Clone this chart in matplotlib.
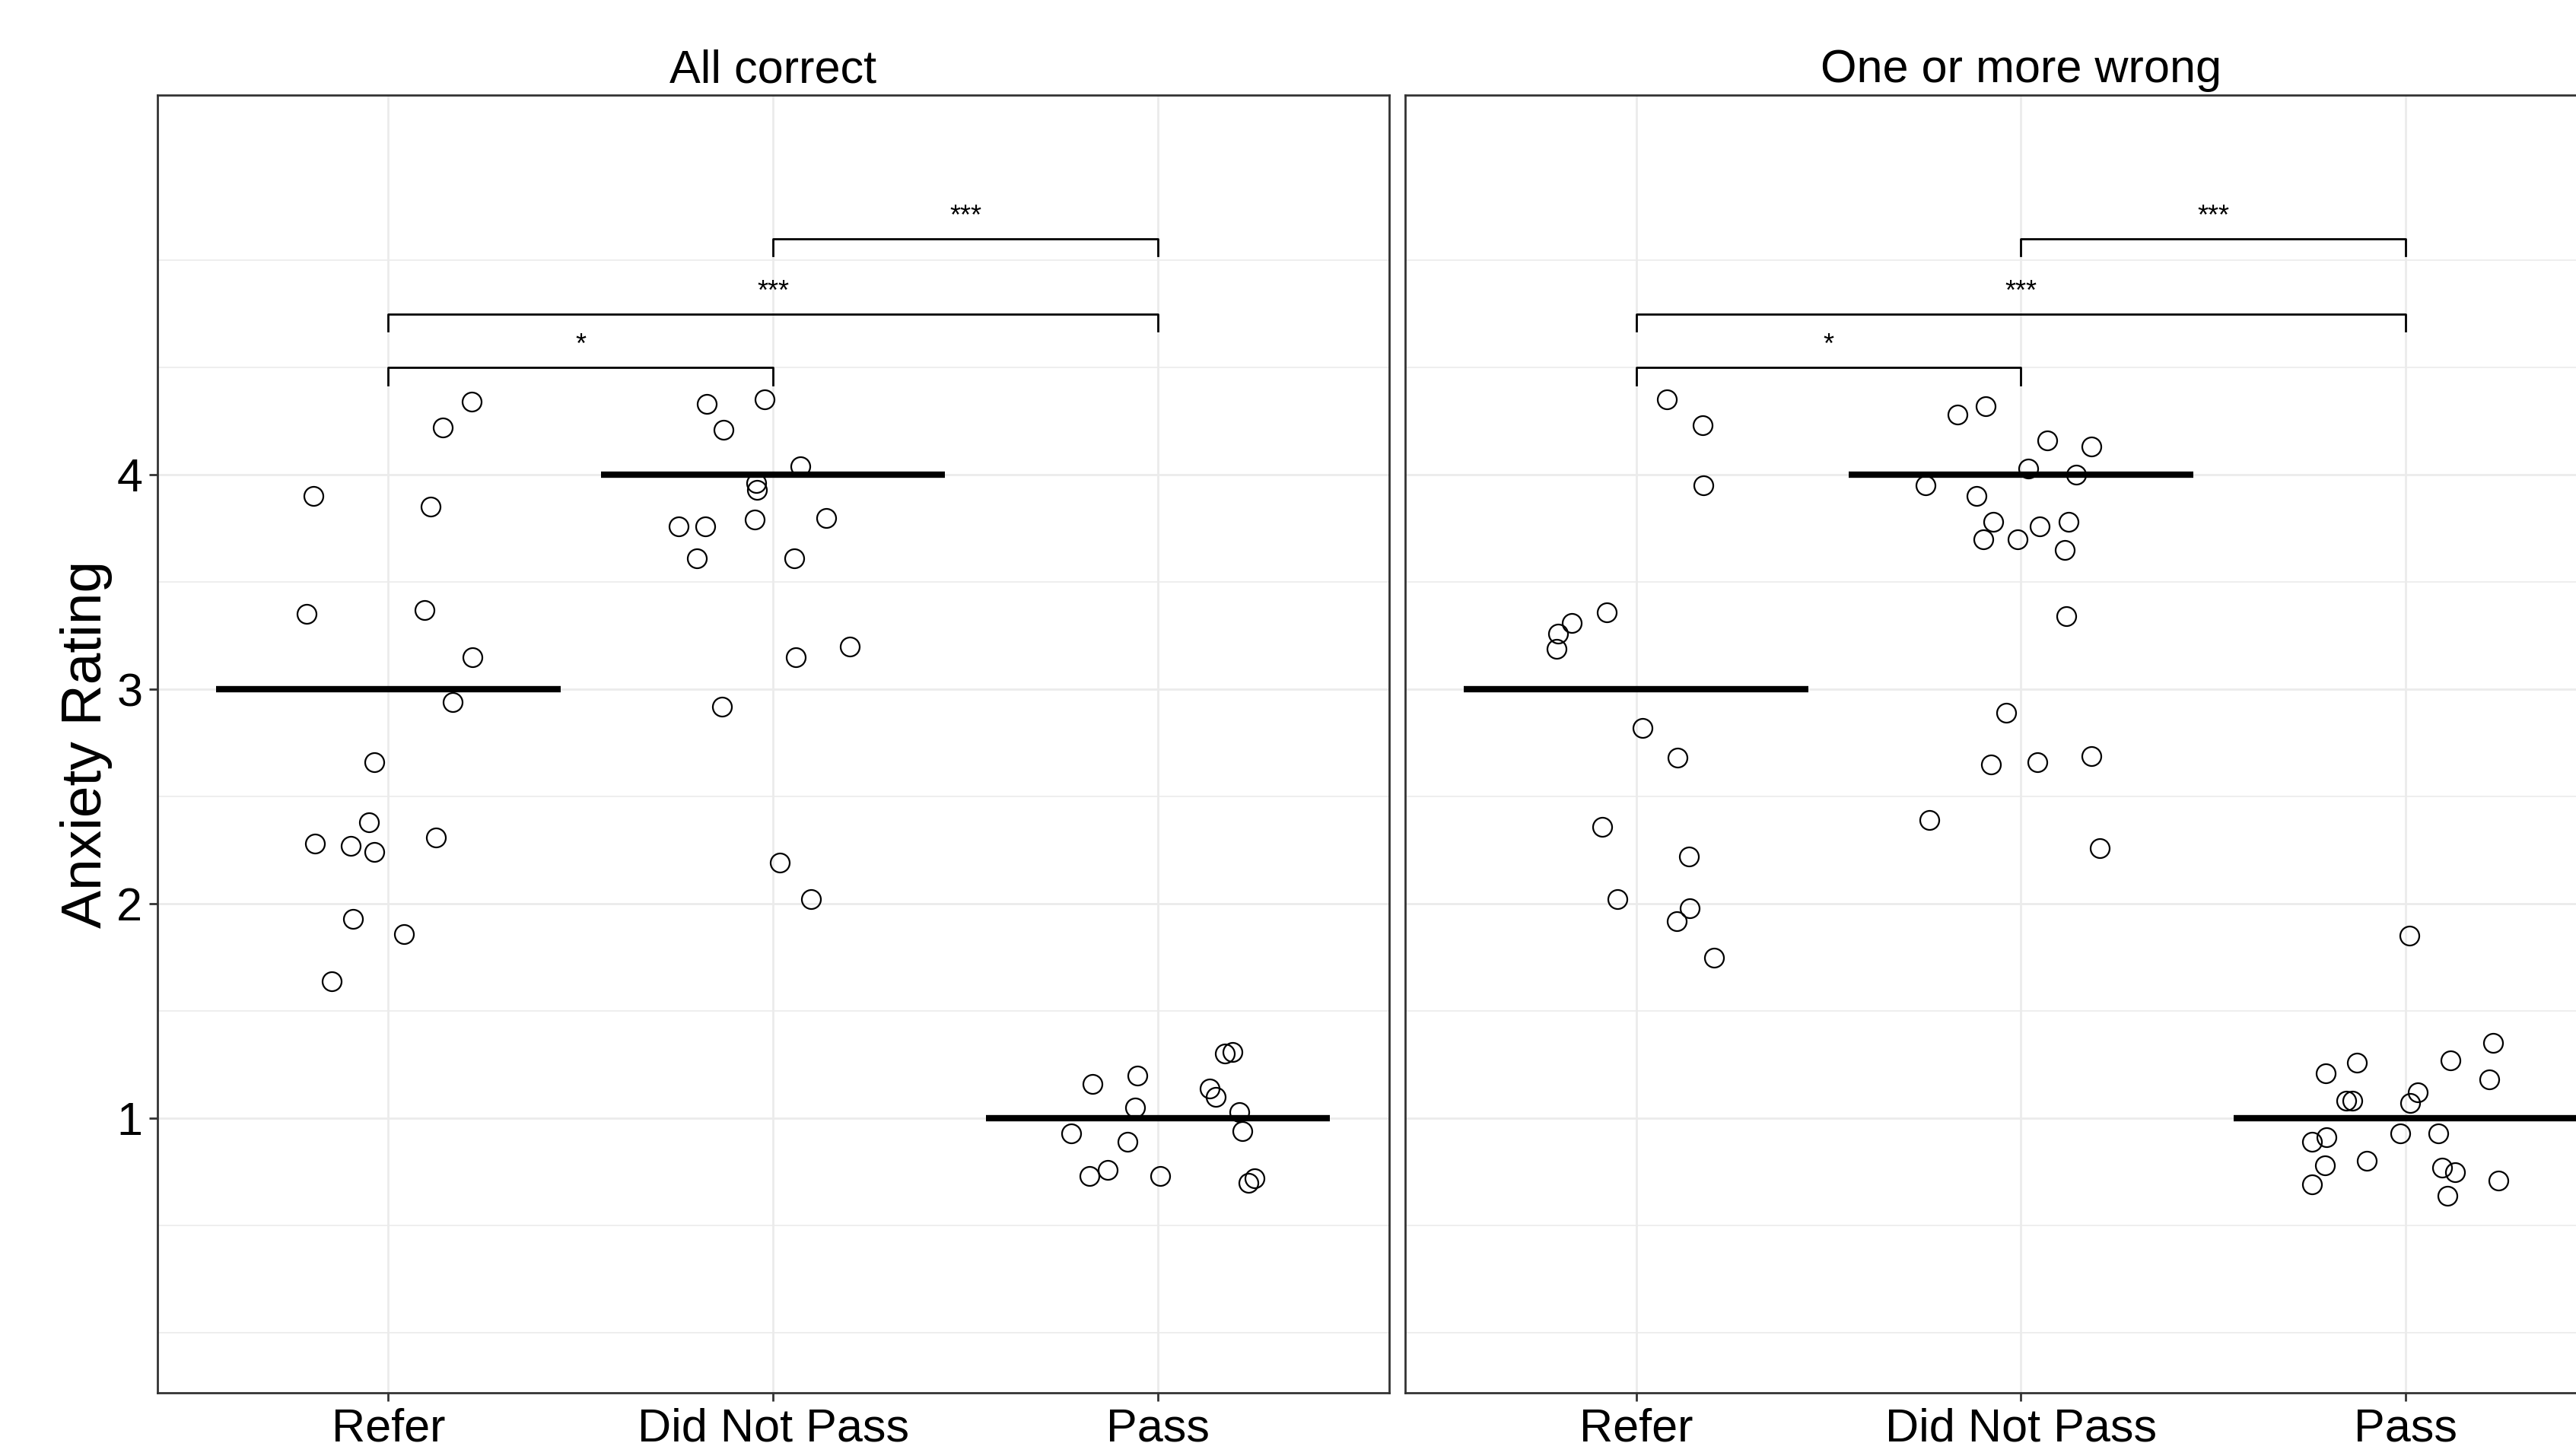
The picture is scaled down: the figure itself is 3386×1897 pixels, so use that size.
#! /usr/bin/env python3

import numpy as np
import matplotlib.pyplot as plt

plt.rcParams['font.family'] = ['Liberation Sans', 'DejaVu Sans']

CATEGORIES = ['Refer', 'Did Not Pass', 'Pass']
PANEL_TITLES = ['All correct', 'One or more wrong']
Y_TICKS = [1, 2, 3, 4]
Y_MINOR = [0, 0.5, 1.5, 2.5, 3.5, 4.5, 5.0]

# jittered positions (x) and ratings (y), panel 1 = All correct
refer_x_1 = [1.216, 1.141, 0.805, 1.110, 0.788, 1.094, 1.218, 1.168, 0.963,
             0.950, 0.809, 0.902, 0.963, 1.123, 0.909, 1.040, 0.852]
refer_y_1 = [4.34, 4.22, 3.90, 3.85, 3.35, 3.37, 3.15, 2.94, 2.66,
             2.38, 2.28, 2.27, 2.24, 2.31, 1.93, 1.86, 1.64]
dnp_x_1 = [1.827, 1.977, 1.871, 2.071, 1.956, 1.958, 1.755, 1.823, 1.952,
           2.137, 1.802, 2.054, 2.200, 2.058, 1.867, 2.017, 2.098]
dnp_y_1 = [4.33, 4.35, 4.21, 4.04, 3.96, 3.93, 3.76, 3.76, 3.79,
           3.80, 3.61, 3.61, 3.20, 3.15, 2.92, 2.19, 2.02]
pass_x_1 = [3.173, 3.193, 2.830, 2.946, 3.135, 3.150, 2.940, 3.212, 2.775,
            2.921, 3.220, 2.869, 2.821, 3.006, 3.250, 3.235]
pass_y_1 = [1.30, 1.31, 1.16, 1.20, 1.14, 1.10, 1.05, 1.03, 0.93,
            0.89, 0.94, 0.76, 0.73, 0.73, 0.72, 0.70]

# panel 2 = One or more wrong
refer_x_2 = [1.080, 1.173, 1.175, 0.924, 0.833, 0.798, 0.794, 1.016,
             1.107, 0.911, 1.138, 0.951, 1.140, 1.105, 1.202]
refer_y_2 = [4.35, 4.23, 3.95, 3.36, 3.31, 3.26, 3.19, 2.82,
             2.68, 2.36, 2.22, 2.02, 1.98, 1.92, 1.75]
dnp_x_2 = [1.835, 1.909, 2.068, 2.183, 2.018, 2.144, 1.751, 1.885, 1.928,
           2.049, 2.123, 1.903, 1.992, 2.113, 2.117, 1.961, 1.922, 2.043,
           2.183, 1.761, 2.204]
dnp_y_2 = [4.28, 4.32, 4.16, 4.13, 4.03, 4.00, 3.95, 3.90, 3.78,
           3.76, 3.78, 3.70, 3.70, 3.65, 3.34, 2.89, 2.65, 2.66,
           2.69, 2.39, 2.26]
pass_x_2 = [3.010, 3.226, 3.115, 2.872, 2.792, 3.216, 3.031, 2.846, 2.860,
            3.012, 2.986, 3.084, 2.794, 2.757, 2.899, 2.790, 3.095, 3.128,
            3.241, 2.757, 3.107]
pass_y_2 = [1.85, 1.35, 1.27, 1.26, 1.21, 1.18, 1.12, 1.08, 1.08,
            1.07, 0.93, 0.93, 0.91, 0.89, 0.80, 0.78, 0.77, 0.75,
            0.71, 0.69, 0.64]

# group centre lines
centre_1 = [3, 4, 1]
centre_2 = [3, 4, 1]

# significance comparisons: (from, to, label, height)
comparisons = [(1, 2, '*', 4.50), (1, 3, '***', 4.75), (2, 3, '***', 5.10)]

panels = [
    (PANEL_TITLES[0], [(refer_x_1, refer_y_1), (dnp_x_1, dnp_y_1), (pass_x_1, pass_y_1)], centre_1),
    (PANEL_TITLES[1], [(refer_x_2, refer_y_2), (dnp_x_2, dnp_y_2), (pass_x_2, pass_y_2)], centre_2),
]

fig = plt.figure(figsize=(16.93, 9.485), dpi=200)
ax_left = fig.add_axes([0.0611, 0.0348, 0.4781, 0.8993])
ax_right = fig.add_axes([0.5455, 0.0348, 0.4781, 0.8993])

GRID = '#EBEBEB'
BORDER = '#333333'

for ax, (title, groups, centres) in zip([ax_left, ax_right], panels):
    ax.set_xlim(0.4, 3.6)
    ax.set_ylim(-0.28, 5.77)

    for yv in Y_MINOR:
        ax.axhline(yv, color=GRID, lw=0.6, zorder=0)
    for yv in Y_TICKS:
        ax.axhline(yv, color=GRID, lw=1.0, zorder=0)
    for xv in range(1, 4):
        ax.axvline(xv, color=GRID, lw=1.0, zorder=0)

    for xs, ys in groups:
        ax.plot(xs, ys, 'o', ms=9, mfc='none', mec='black', mew=0.8, zorder=3)

    ax.hlines(centres, np.arange(1, 4) - 0.447, np.arange(1, 4) + 0.447,
              color='black', lw=3.0, zorder=2)

    for a, b, label, h in comparisons:
        ax.plot([a, a, b, b], [h - 0.08, h, h, h - 0.08], color='black', lw=1.0, zorder=2)
        ax.text((a + b) / 2, h + 0.10, label, ha='center', va='center', fontsize=13)

    ax.set_xticks([1, 2, 3])
    ax.set_xticklabels(CATEGORIES, fontsize=22)
    ax.set_yticks(Y_TICKS)
    ax.set_yticklabels([str(v) for v in Y_TICKS], fontsize=22)
    ax.tick_params(length=4, width=1.0, color=BORDER, pad=3)
    for spine in ax.spines.values():
        spine.set_color(BORDER)
        spine.set_linewidth(1.0)
    ax.set_title(title, fontsize=22, pad=6)

ax_left.set_ylabel('Anxiety Rating', fontsize=27, labelpad=2)
ax_right.tick_params(left=False, labelleft=False)

plt.savefig('out.png', dpi=200)
